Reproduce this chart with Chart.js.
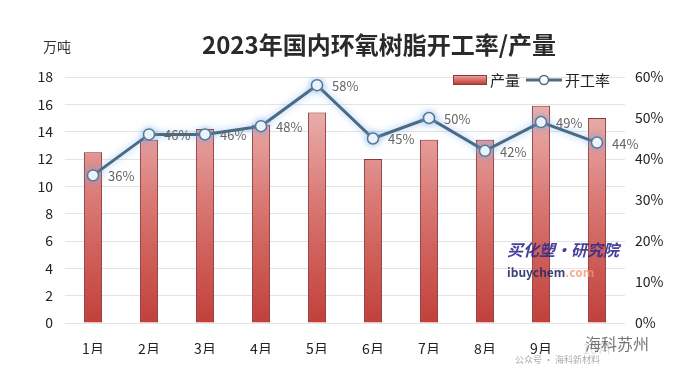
<!DOCTYPE html>
<html>
<head>
<meta charset="utf-8">
<script src="https://cdn.jsdelivr.net/npm/chart.js@4.4.0/dist/chart.umd.min.js"></script>
<style>
  html, body { margin: 0; padding: 0; background: #fff; }
  #wrap { width: 678px; height: 377px; }
</style>
</head>
<body>
<div id="wrap"><canvas id="c" width="678" height="377"></canvas></div>
<script>
// 月份
const months = ['1月', '2月', '3月', '4月', '5月', '6月', '7月', '8月', '9月', '10月'];
// 产量（万吨）
const output = [12.5, 13.4, 14.2, 14.5, 15.4, 12.0, 13.4, 13.4, 15.9, 15.0];
// 开工率（%）
const utilization = [36, 46, 46, 48, 58, 45, 50, 42, 49, 44];

const FONT = '"Noto Sans CJK SC", "Noto Sans", sans-serif';
const LINE_COLOR = '#4b6a84';

function barGradient(ctx, top, bottom) {
  const g = ctx.createLinearGradient(0, top, 0, bottom);
  g.addColorStop(0, '#eab0ae');
  g.addColorStop(0.5, '#d7716c');
  g.addColorStop(1, '#c1403b');
  return g;
}

// 阴影/光晕
const glowPlugin = {
  id: 'glow',
  beforeDatasetDraw(chart, args) {
    const ctx = chart.ctx;
    ctx.save();
    if (args.meta.type === 'line') {
      ctx.shadowColor = 'rgba(110,170,235,0.7)';
      ctx.shadowBlur = 7;
    } else {
      ctx.shadowColor = 'rgba(230,90,90,0.35)';
      ctx.shadowBlur = 6;
    }
  },
  afterDatasetDraw(chart) {
    chart.ctx.restore();
  }
};

// 标题、单位、图例、数据标签、水印
const decoPlugin = {
  id: 'deco',
  afterDraw(chart) {
    const ctx = chart.ctx;
    ctx.save();

    ctx.fillStyle = '#2a2a2a';
    ctx.font = 'bold 24px ' + FONT;
    ctx.textAlign = 'center';
    ctx.textBaseline = 'middle';
    ctx.fillText('2023年国内环氧树脂开工率/产量', 379, 45);

    ctx.font = '14px ' + FONT;
    ctx.textAlign = 'left';
    ctx.fillStyle = '#333';
    ctx.fillText('万吨', 43, 47);

    // 图例
    ctx.fillStyle = barGradient(ctx, 75, 84);
    ctx.fillRect(453, 75, 33, 9);
    ctx.strokeStyle = '#8a3a3a';
    ctx.lineWidth = 1;
    ctx.strokeRect(453.5, 75.5, 33, 9);
    ctx.fillStyle = '#222';
    ctx.font = '15px ' + FONT;
    ctx.fillText('产量', 490, 80);
    ctx.strokeStyle = LINE_COLOR;
    ctx.lineWidth = 3;
    ctx.beginPath();
    ctx.moveTo(526, 80);
    ctx.lineTo(562, 80);
    ctx.stroke();
    ctx.beginPath();
    ctx.arc(544, 80, 4.5, 0, Math.PI * 2);
    ctx.fillStyle = '#fff';
    ctx.fill();
    ctx.lineWidth = 1.5;
    ctx.stroke();
    ctx.fillStyle = '#222';
    ctx.fillText('开工率', 565, 80);

    // 数据标签
    const meta = chart.getDatasetMeta(1);
    ctx.font = '13px ' + FONT;
    ctx.fillStyle = '#666';
    meta.data.forEach((pt, i) => {
      ctx.fillText(utilization[i] + '%', pt.x + 15, pt.y + 1);
    });

    // 水印
    ctx.font = 'italic bold 16px ' + FONT;
    ctx.fillStyle = 'rgba(50,45,140,0.9)';
    ctx.fillText('买化塑·研究院', 507, 250);
    ctx.font = 'bold 12px ' + FONT;
    ctx.fillStyle = 'rgba(40,45,100,0.9)';
    ctx.fillText('ibuychem', 507, 272);
    const w = ctx.measureText('ibuychem').width;
    ctx.fillStyle = 'rgba(240,150,110,0.8)';
    ctx.fillText('.com', 507 + w, 272);

    ctx.fillStyle = 'rgba(255,255,255,0.85)';
    ctx.fillRect(572, 332, 90, 22);
    ctx.font = '16px ' + FONT;
    ctx.fillStyle = 'rgba(90,90,90,0.85)';
    ctx.fillText('海科苏州', 585, 344);
    ctx.font = '9px ' + FONT;
    ctx.fillStyle = 'rgba(150,150,150,0.8)';
    ctx.fillText('公众号 · 海科新材料', 515, 360);

    ctx.restore();
  }
};

new Chart(document.getElementById('c'), {
  data: {
    labels: months,
    datasets: [
      {
        type: 'bar',
        label: '产量',
        data: output,
        yAxisID: 'y',
        order: 2,
        backgroundColor: (c) => {
          const a = c.chart.chartArea;
          if (!a) return '#d06560';
          return barGradient(c.chart.ctx, a.top + 30, a.bottom);
        },
        borderColor: '#7e3434',
        borderWidth: 1,
        barPercentage: 0.9,
        categoryPercentage: 0.36
      },
      {
        type: 'line',
        label: '开工率',
        data: utilization,
        yAxisID: 'y1',
        order: 1,
        borderColor: LINE_COLOR,
        borderWidth: 3,
        tension: 0,
        pointRadius: 5.5,
        pointBackgroundColor: '#fff',
        pointBorderColor: '#5a7890',
        pointBorderWidth: 1.5
      }
    ]
  },
  options: {
    responsive: false,
    animation: false,
    layout: { padding: { top: 77, bottom: 23, left: 0, right: 0 } },
    plugins: {
      legend: { display: false },
      tooltip: { enabled: false },
      title: { display: false }
    },
    scales: {
      x: {
        grid: { display: false },
        border: { display: false },
        ticks: { font: { family: FONT, size: 14 }, color: '#222', padding: 9 },
        afterFit: (s) => { s.height = 31; }
      },
      y: {
        position: 'left',
        min: 0,
        max: 18,
        ticks: { stepSize: 2, font: { family: FONT, size: 14 }, color: '#222', padding: 12 },
        grid: { color: '#e4e4e4', drawTicks: false },
        border: { display: false },
        afterFit: (s) => { s.width = 65; }
      },
      y1: {
        position: 'right',
        min: 0,
        max: 60,
        ticks: {
          stepSize: 10,
          font: { family: FONT, size: 14 },
          color: '#222',
          padding: 10,
          callback: (v) => v + '%'
        },
        grid: { display: false, drawTicks: false },
        border: { display: false },
        afterFit: (s) => { s.width = 53; }
      }
    }
  },
  plugins: [glowPlugin, decoPlugin]
});
</script>
</body>
</html>
